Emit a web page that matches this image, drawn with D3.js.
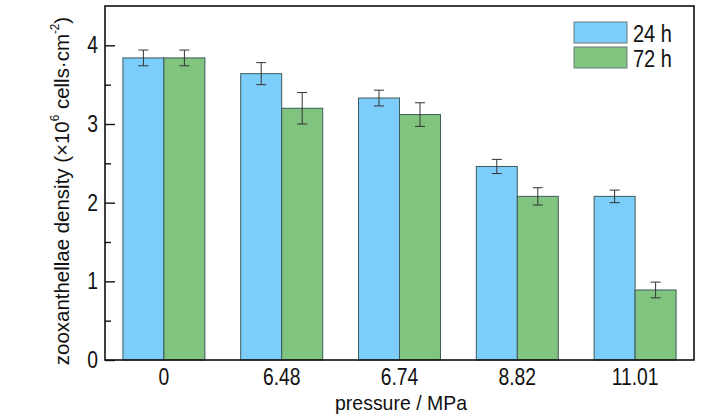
<!DOCTYPE html>
<html>
<head>
<meta charset="utf-8">
<script src="https://cdn.jsdelivr.net/npm/d3@7"></script>
<style>
  html, body { margin: 0; padding: 0; background: #fff; }
  svg { display: block; }
  text { font-family: "Liberation Sans", Arial, sans-serif; fill: #111; }
</style>
</head>
<body>
<svg id="chart" width="728" height="416"></svg>
<script>
const categories = ["0", "6.48", "6.74", "8.82", "11.01"];
const seriesNames = ["24 h", "72 h"];
const values24 = [3.84, 3.64, 3.33, 2.46, 2.08];
const values72 = [3.84, 3.20, 3.12, 2.08, 0.89];
const err24 = [0.10, 0.14, 0.10, 0.09, 0.08];
const err72 = [0.10, 0.20, 0.15, 0.11, 0.10];
const yTicks = [0, 1, 2, 3, 4];
const yMinorTicks = [0.5, 1.5, 2.5, 3.5];
const colors = ["#7dcdfb", "#80c47f"];

const W = 728, H = 416;
const margin = { left: 105, top: 6, right: 34, bottom: 56 };
const svg = d3.select("#chart");
const FONT = "Liberation Sans, Arial, sans-serif";

const x = d3.scaleBand().domain(categories).range([margin.left, W - margin.right]).padding(0);
const xs = d3.scaleBand().domain(seriesNames).range([0, x.bandwidth()]).paddingInner(0).paddingOuter(0.437);
const y = d3.scaleLinear().domain([0, 4.5]).range([H - margin.bottom, margin.top]);

const rows = [];
categories.forEach((c, i) => {
  rows.push({ cat: c, s: seriesNames[0], v: values24[i], e: err24[i], col: colors[0] });
  rows.push({ cat: c, s: seriesNames[1], v: values72[i], e: err72[i], col: colors[1] });
});

// bars
svg.append("g").selectAll("rect").data(rows).join("rect")
  .attr("x", d => x(d.cat) + xs(d.s))
  .attr("y", d => y(d.v))
  .attr("width", xs.bandwidth())
  .attr("height", d => y(0) - y(d.v))
  .attr("fill", d => d.col)
  .attr("stroke", "#3d5a5a")
  .attr("stroke-width", 1);

// error bars
const eg = svg.append("g").attr("stroke", "#333").attr("stroke-width", 1);
rows.forEach(d => {
  const cx = x(d.cat) + xs(d.s) + xs.bandwidth() / 2;
  eg.append("line").attr("x1", cx).attr("x2", cx).attr("y1", y(d.v + d.e)).attr("y2", y(d.v - d.e));
  eg.append("line").attr("x1", cx - 5).attr("x2", cx + 5).attr("y1", y(d.v + d.e)).attr("y2", y(d.v + d.e));
  eg.append("line").attr("x1", cx - 5).attr("x2", cx + 5).attr("y1", y(d.v - d.e)).attr("y2", y(d.v - d.e));
});

// frame
svg.append("rect")
  .attr("x", margin.left).attr("y", margin.top)
  .attr("width", W - margin.left - margin.right)
  .attr("height", H - margin.top - margin.bottom)
  .attr("fill", "none").attr("stroke", "#111").attr("stroke-width", 1.6);

const TS = 23, SX = 0.84;

// y axis
const yAxis = d3.axisLeft(y).tickValues(yTicks).tickSize(-10).tickPadding(7).tickFormat(d3.format("d"));
const yg = svg.append("g").attr("transform", `translate(${margin.left},0)`).call(yAxis);
yg.select(".domain").remove();
yg.selectAll(".tick line").attr("stroke", "#111").attr("stroke-width", 1.4);
yg.selectAll(".tick text").attr("font-size", TS).attr("font-family", FONT).attr("fill", "#111")
  .attr("x", -7 / SX).attr("transform", `scale(${SX},1)`);

const yMinor = d3.axisLeft(y).tickValues(yMinorTicks).tickSize(-6).tickFormat("");
const ymg = svg.append("g").attr("transform", `translate(${margin.left},0)`).call(yMinor);
ymg.select(".domain").remove();
ymg.selectAll(".tick line").attr("stroke", "#111").attr("stroke-width", 1.4);

// x axis
const xAxis = d3.axisBottom(x).tickSize(0).tickPadding(8.5);
const xg = svg.append("g").attr("transform", `translate(0,${H - margin.bottom})`).call(xAxis);
xg.select(".domain").remove();
xg.selectAll(".tick text").attr("font-size", TS).attr("font-family", FONT).attr("fill", "#111")
  .attr("transform", `scale(${SX},1)`);

// x title
svg.append("text").attr("transform", "translate(401,410) scale(0.95,1)").attr("text-anchor", "middle")
  .attr("font-size", 20.5).text("pressure / MPa");

// y title
const yt = svg.append("text")
  .attr("transform", "translate(69,191) rotate(-90) scale(0.975,1)")
  .attr("text-anchor", "middle").attr("font-size", 21);
yt.append("tspan").text("zooxanthellae density (×10");
yt.append("tspan").attr("font-size", 12).attr("dy", -10).text("6");
yt.append("tspan").attr("dy", 10).text(" cells·cm");
yt.append("tspan").attr("font-size", 12).attr("dy", -10).text("-2");
yt.append("tspan").attr("dy", 10).text(")");

// legend
const lg = svg.append("g");
seriesNames.forEach((s, i) => {
  const yy = 22 + i * 25;
  lg.append("rect").attr("x", 574).attr("y", yy).attr("width", 53).attr("height", 21)
    .attr("fill", colors[i]).attr("stroke", "#6a7a7a").attr("stroke-width", 1);
  lg.append("text").attr("transform", `translate(633,${yy + 19.5}) scale(0.87,1)`)
    .attr("font-size", 23).text(s);
});
</script>
</body>
</html>
